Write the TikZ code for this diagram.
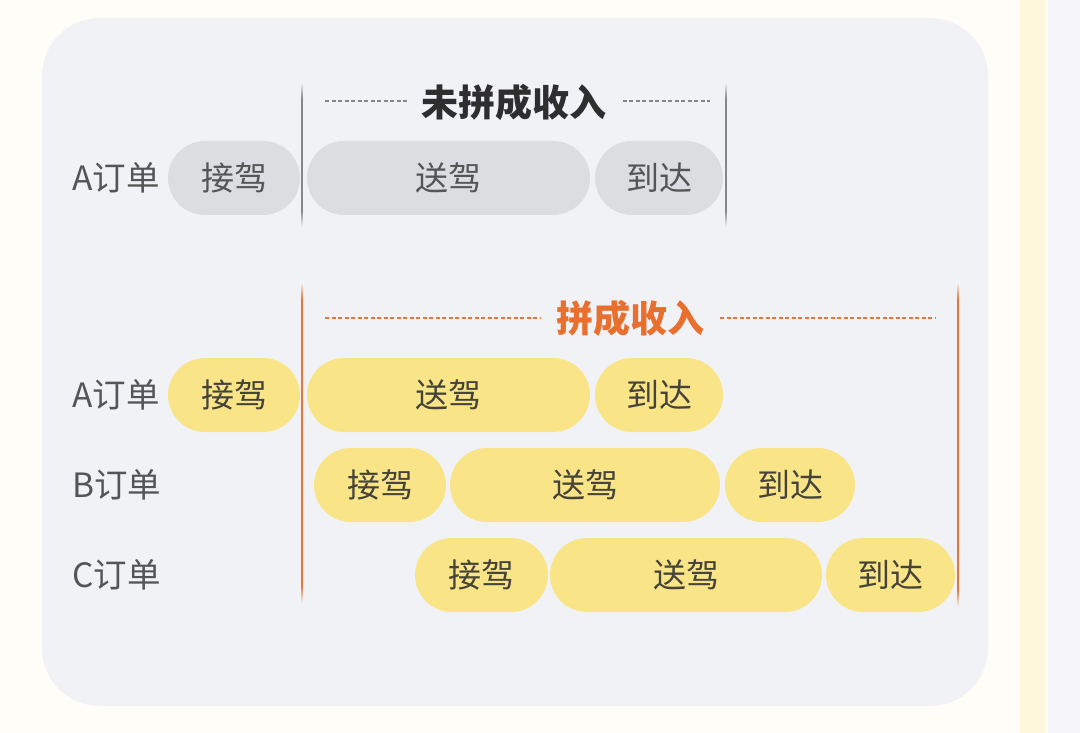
\documentclass[tikz,border=0pt]{standalone}
\usepackage{fontspec}
\newfontfamily\cjk{Noto Sans CJK SC}
\usetikzlibrary{calc}
\definecolor{pagebg}{HTML}{FFFDF7}
\definecolor{stripy}{HTML}{FFF8DC}
\definecolor{stripg}{HTML}{F6F6F9}
\definecolor{panel}{HTML}{F1F2F6}
\definecolor{pillgray}{HTML}{DCDDE1}
\definecolor{pillyellow}{HTML}{F9E588}
\definecolor{txtgray}{HTML}{555555}
\definecolor{txtdark}{HTML}{45433A}
\definecolor{lblgray}{HTML}{555555}
\definecolor{linegray}{HTML}{85858A}
\definecolor{orangeln}{HTML}{E8743A}
\definecolor{orangetxt}{HTML}{E86F2E}
\definecolor{titledark}{HTML}{2E2E2E}
\tikzset{
  pill/.style={rectangle, rounded corners=37pt, minimum height=74pt, inner sep=0pt,
    font=\cjk\fontsize{33}{33}\selectfont},
  greypill/.style={pill, fill=pillgray, text=txtgray},
  yelpill/.style={pill, fill=pillyellow, text=txtdark},
  rowlabel/.style={anchor=west, inner sep=0pt, text=lblgray, font=\cjk\fontsize{33.5}{33.5}\selectfont},
  titletext/.style={inner sep=0pt, font=\cjk\bfseries\fontsize{37}{37}\selectfont},
  dashg/.style={draw=linegray, line width=2.4pt, dash pattern=on 4pt off 2.5pt},
  dasho/.style={draw=orangeln, line width=2.4pt, dash pattern=on 4pt off 2.5pt},
}
\newcommand{\vbar}[4]{% x, ytop, ybot, colour
  \foreach \k in {1,...,8}{
    \pgfmathsetmacro{\pct}{\k*12}
    \fill[#4!\pct!panel] (#1-1.4,#2+2*\k-2) rectangle (#1+1.4,#2+2*\k);
    \fill[#4!\pct!panel] (#1-1.4,#3-2*\k+2) rectangle (#1+1.4,#3-2*\k);
  }
  \fill[#4] (#1-1.4,#2+16) rectangle (#1+1.4,#3-16);
}
\begin{document}
\begin{tikzpicture}[x=1pt,y=-1pt]
\useasboundingbox (0,0) rectangle (1080,733);
\fill[pagebg] (0,0) rectangle (1080,733);
\fill[stripy] (1020,0) rectangle (1046,733);
\fill[stripg] (1048,0) rectangle (1080,733);
\fill[panel, rounded corners=58pt] (42,18) rectangle (988,706);

% ---------- top: not pooled ----------
\vbar{302}{84}{226}{linegray}
\vbar{726}{84}{226}{linegray}
\node[titletext, text=titledark] (t1) at (514,102) {未拼成收入};
\coordinate (t1l) at (325,101);
\coordinate (t1r) at (710,101);
\draw[dashg] (t1l) -- ($(t1.west)+(-14,-1)$);
\draw[dashg] ($(t1.east)+(16,-1)$) -- (t1r);

\node[rowlabel] (la0) at (72,178) {A订单};
\node[greypill, minimum width=132pt] (a0p) at (234,178) {接驾};
\node[greypill, minimum width=283pt] (a0s) at (448.5,178) {送驾};
\node[greypill, minimum width=128pt] (a0d) at (659,178) {到达};

% ---------- bottom: pooled ----------
\vbar{302}{284}{602}{orangeln}
\vbar{958}{284}{606}{orangeln}
\node[titletext, text=orangetxt] (t2) at (630,318) {拼成收入};
\coordinate (t2l) at (325,318);
\coordinate (t2r) at (935,318);
\draw[dasho] (t2l) -- ($(t2.west)+(-16,0)$);
\draw[dasho] ($(t2.east)+(16,0)$) -- (t2r);

\node[rowlabel] (la) at (72,395) {A订单};
\node[yelpill, minimum width=132pt] (ap) at (234,395) {接驾};
\node[yelpill, minimum width=283pt] (as) at (448.5,395) {送驾};
\node[yelpill, minimum width=128pt] (ad) at (659,395) {到达};

\node[rowlabel] (lb) at (72,485) {B订单};
\node[yelpill, minimum width=132pt] (bp) at (380,485) {接驾};
\node[yelpill, minimum width=270pt] (bs) at (585,485) {送驾};
\node[yelpill, minimum width=130pt] (bd) at (790,485) {到达};

\node[rowlabel] (lc) at (72,575) {C订单};
\node[yelpill, minimum width=133pt] (cp) at (481.5,575) {接驾};
\node[yelpill, minimum width=272pt] (cs) at (686,575) {送驾};
\node[yelpill, minimum width=129pt] (cd) at (890.5,575) {到达};
\end{tikzpicture}
\end{document}
